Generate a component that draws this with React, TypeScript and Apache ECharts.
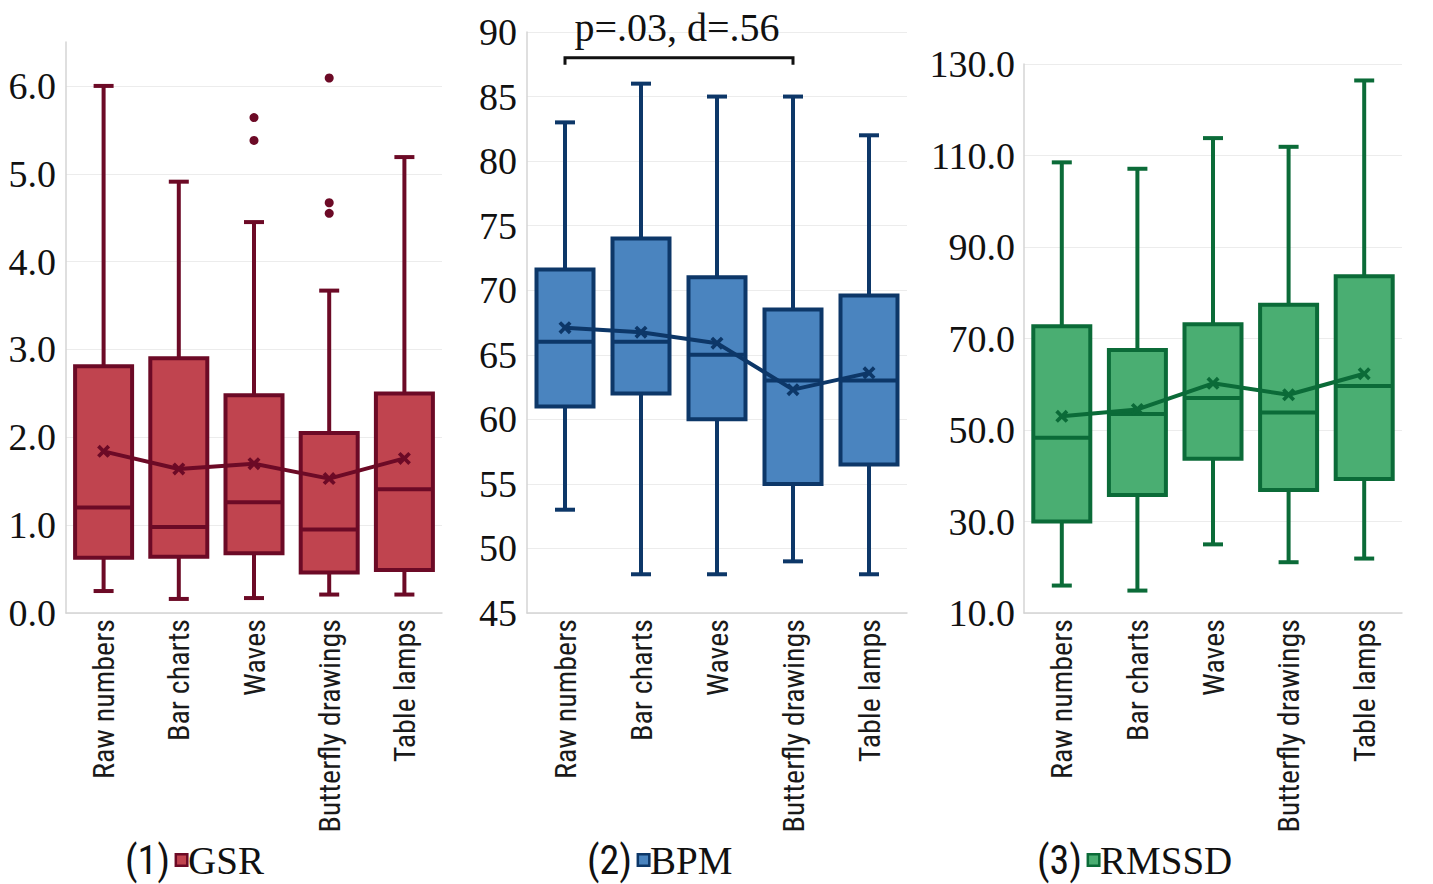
import React, { useEffect, useRef } from "react";
import * as echarts from "echarts";

const categories = ["Raw numbers", "Bar charts", "Waves", "Butterfly drawings", "Table lamps"];

// GSR
const gsrLow = [0.25, 0.16, 0.17, 0.21, 0.21];
const gsrQ1 = [0.63, 0.64, 0.68, 0.46, 0.49];
const gsrMedian = [1.2, 0.98, 1.26, 0.95, 1.41];
const gsrQ3 = [2.81, 2.9, 2.48, 2.05, 2.5];
const gsrHigh = [6.0, 4.91, 4.45, 3.67, 5.19];
const gsrMean = [1.84, 1.64, 1.7, 1.53, 1.76];
const gsrOutliers = [[2, 5.64], [2, 5.38], [3, 6.09], [3, 4.67], [3, 4.55]];

// BPM
const bpmLow = [53, 48, 48, 49, 48];
const bpmQ1 = [61, 62, 60, 55, 56.5];
const bpmMedian = [66, 66, 65, 63, 63];
const bpmQ3 = [71.6, 74, 71, 68.5, 69.6];
const bpmHigh = [83, 86, 85, 85, 82];
const bpmMean = [67.1, 66.75, 65.9, 62.3, 63.6];

// RMSSD
const rmLow = [16.0, 14.9, 25.0, 21.1, 21.9];
const rmQ1 = [30.0, 35.8, 43.7, 36.9, 39.3];
const rmMedian = [48.3, 53.5, 57.0, 53.8, 59.6];
const rmQ3 = [72.7, 67.5, 73.1, 77.4, 83.6];
const rmHigh = [108.5, 107.1, 113.8, 111.9, 126.4];
const rmMean = [53.0, 54.5, 60.2, 57.7, 62.3];

const gsrTicks = ["0.0", "1.0", "2.0", "3.0", "4.0", "5.0", "6.0"];
const statText = "p=.03, d=.56";

const COLORS = {
  gsr: { fill: "#c0444f", dark: "#6c0a26" },
  bpm: { fill: "#4a84bf", dark: "#0d3768" },
  rm: { fill: "#4aae72", dark: "#0b6b38" },
};

const SERIF = "'Liberation Serif', 'Times New Roman', serif";
const NARROW = "'Liberation Sans Narrow', 'Arial Narrow', 'Roboto Condensed', sans-serif";

const XSYM = "path://M2,0 L5,3 L8,0 L10,2 L7,5 L10,8 L8,10 L5,7 L2,10 L0,8 L3,5 L0,2 Z";
const LW = 4;

function boxData(low: number[], q1: number[], med: number[], q3: number[], high: number[]) {
  return categories.map((_, i) => [i, low[i], q1[i], med[i], q3[i], high[i]]);
}

function boxSeries(idx: number, data: number[][], fill: string, dark: string) {
  return {
    type: "custom",
    xAxisIndex: idx,
    yAxisIndex: idx,
    encode: { x: 0, y: [1, 2, 3, 4, 5] },
    data,
    z: 2,
    renderItem: (params: any, api: any) => {
      const i = api.value(0);
      const low = api.coord([i, api.value(1)]);
      const q1 = api.coord([i, api.value(2)]);
      const med = api.coord([i, api.value(3)]);
      const q3 = api.coord([i, api.value(4)]);
      const high = api.coord([i, api.value(5)]);
      const cx = low[0];
      const bw = 57;
      const cap = 20;
      const ls = { stroke: dark, lineWidth: LW };
      return {
        type: "group",
        children: [
          { type: "line", shape: { x1: cx, y1: high[1], x2: cx, y2: q3[1] }, style: ls },
          { type: "line", shape: { x1: cx, y1: q1[1], x2: cx, y2: low[1] }, style: ls },
          { type: "line", shape: { x1: cx - cap / 2, y1: high[1], x2: cx + cap / 2, y2: high[1] }, style: ls },
          { type: "line", shape: { x1: cx - cap / 2, y1: low[1], x2: cx + cap / 2, y2: low[1] }, style: ls },
          {
            type: "rect",
            shape: { x: cx - bw / 2, y: q3[1], width: bw, height: q1[1] - q3[1] },
            style: { fill, stroke: dark, lineWidth: LW },
          },
          { type: "line", shape: { x1: cx - bw / 2, y1: med[1], x2: cx + bw / 2, y2: med[1] }, style: ls },
        ],
      };
    },
  };
}

function meanSeries(idx: number, data: number[], dark: string) {
  return {
    type: "line",
    xAxisIndex: idx,
    yAxisIndex: idx,
    data,
    z: 5,
    symbol: XSYM,
    symbolSize: 13,
    lineStyle: { color: dark, width: LW },
    itemStyle: { color: dark, opacity: 1 },
  };
}

const axisLineStyle = { show: true, lineStyle: { color: "#d4d4d4", width: 1.5 } };

function xAxis(idx: number) {
  return {
    type: "category",
    gridIndex: idx,
    data: categories,
    boundaryGap: true,
    axisLine: axisLineStyle,
    axisTick: { show: false },
    axisLabel: {
      rotate: 90,
      fontSize: 30,
      fontFamily: NARROW,
      color: "#1a1a1a",
      margin: 6,
      interval: 0,
    },
    splitLine: { show: false },
  };
}

function legendText(num: string, name: string) {
  return `{p|${num}}{gap|}{sq|}{n|${name}}`;
}

function legendRich(fill: string, dark: string) {
  return {
    p: { fontFamily: NARROW, fontSize: 40, fill: "#111" },
    gap: { width: 7 },
    sq: { width: 9, height: 9, backgroundColor: fill, borderColor: dark, borderWidth: 2.5 },
    n: { fontFamily: SERIF, fontSize: 39, fill: "#111", padding: [0, 0, 0, 2] },
  };
}

export default function App() {
  const ref = useRef<HTMLDivElement>(null);
  useEffect(() => {
    if (!ref.current) return;
    const chart = echarts.init(ref.current, null, { renderer: "svg" });
    const grid1Lines = ["#ececec", "#ececec", "#ececec", "#ececec", "#ececec", "#ececec", "#ececec", "rgba(0,0,0,0)"];
    const option: any = {
      animation: false,
      backgroundColor: "#ffffff",
      grid: [
        { left: 66, top: 42, width: 376, height: 571 },
        { left: 527, top: 32, width: 380, height: 581 },
        { left: 1024, top: 64, width: 378, height: 549 },
      ],
      xAxis: [xAxis(0), xAxis(1), xAxis(2)],
      yAxis: [
        {
          type: "value",
          gridIndex: 0,
          min: 0,
          max: 6.5,
          interval: 1,
          axisLine: axisLineStyle,
          axisTick: { show: false },
          axisLabel: {
            fontSize: 38,
            fontFamily: SERIF,
            color: "#111",
            margin: 10,
            formatter: (v: number) => {
              const k = Math.round(v);
              return Math.abs(v - k) < 1e-9 && k < gsrTicks.length ? gsrTicks[k] : "";
            },
          },
          splitLine: { show: true, lineStyle: { color: grid1Lines, width: 1 } },
        },
        {
          type: "value",
          gridIndex: 1,
          min: 45,
          max: 90,
          interval: 5,
          axisLine: axisLineStyle,
          axisTick: { show: false },
          axisLabel: { fontSize: 38, fontFamily: SERIF, color: "#111", margin: 10 },
          splitLine: { show: true, lineStyle: { color: "#ececec", width: 1 } },
        },
        {
          type: "value",
          gridIndex: 2,
          min: 10,
          max: 130,
          interval: 10,
          axisLine: axisLineStyle,
          axisTick: { show: false },
          axisLabel: {
            fontSize: 38,
            fontFamily: SERIF,
            color: "#111",
            margin: 9,
            formatter: (v: number) => (Math.round(v - 10) % 20 === 0 ? v.toFixed(1) : ""),
          },
          splitLine: { show: true, lineStyle: { color: ["#ececec", "rgba(0,0,0,0)"], width: 1 } },
        },
      ],
      series: [
        boxSeries(0, boxData(gsrLow, gsrQ1, gsrMedian, gsrQ3, gsrHigh), COLORS.gsr.fill, COLORS.gsr.dark),
        meanSeries(0, gsrMean, COLORS.gsr.dark),
        {
          type: "scatter",
          xAxisIndex: 0,
          yAxisIndex: 0,
          data: gsrOutliers,
          symbol: "circle",
          symbolSize: 9,
          itemStyle: { color: COLORS.gsr.dark, opacity: 1 },
          z: 4,
        },
        boxSeries(1, boxData(bpmLow, bpmQ1, bpmMedian, bpmQ3, bpmHigh), COLORS.bpm.fill, COLORS.bpm.dark),
        meanSeries(1, bpmMean, COLORS.bpm.dark),
        boxSeries(2, boxData(rmLow, rmQ1, rmMedian, rmQ3, rmHigh), COLORS.rm.fill, COLORS.rm.dark),
        meanSeries(2, rmMean, COLORS.rm.dark),
      ],
    };
    chart.setOption(option);

    const xa = chart.convertToPixel({ xAxisIndex: 1 }, 0) as number;
    const xb = chart.convertToPixel({ xAxisIndex: 1 }, 3) as number;
    const yTop = chart.convertToPixel({ yAxisIndex: 1 }, 88) as number;
    const legY = 860;

    chart.setOption({
      graphic: [
        {
          type: "polyline",
          shape: { points: [[xa, yTop + 7], [xa, yTop], [xb, yTop], [xb, yTop + 7]] },
          style: { stroke: "#111", lineWidth: 3, fill: "none" },
          z: 10,
        },
        {
          type: "text",
          x: (xa + xb) / 2 - 2,
          y: yTop - 10,
          style: {
            text: statText,
            fontFamily: SERIF,
            fontSize: 40,
            fill: "#111",
            align: "center",
            verticalAlign: "bottom",
          },
          z: 10,
        },
        {
          type: "text",
          x: 125,
          y: legY,
          style: {
            text: legendText("(1)", "GSR"),
            rich: legendRich(COLORS.gsr.fill, COLORS.gsr.dark),
            align: "left",
            verticalAlign: "middle",
          },
        },
        {
          type: "text",
          x: 587,
          y: legY,
          style: {
            text: legendText("(2)", "BPM"),
            rich: legendRich(COLORS.bpm.fill, COLORS.bpm.dark),
            align: "left",
            verticalAlign: "middle",
          },
        },
        {
          type: "text",
          x: 1037,
          y: legY,
          style: {
            text: legendText("(3)", "RMSSD"),
            rich: legendRich(COLORS.rm.fill, COLORS.rm.dark),
            align: "left",
            verticalAlign: "middle",
          },
        },
      ],
    });

    return () => chart.dispose();
  }, []);
  return (
    <div
      ref={ref}
      style={{ position: "absolute", left: 0, top: 0, width: 1433, height: 884, background: "#fff" }}
    />
  );
}
